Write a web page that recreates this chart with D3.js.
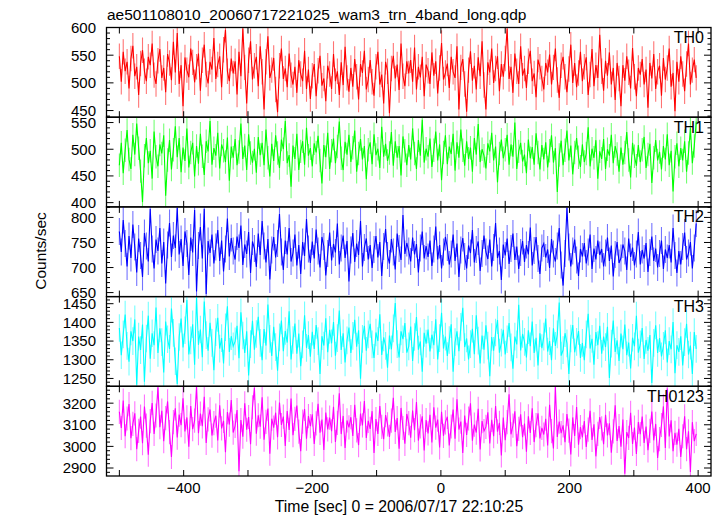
<!DOCTYPE html>
<html><head><meta charset="utf-8">
<script src="https://cdn.jsdelivr.net/npm/d3@7"></script>
<style>
body{margin:0;background:#fff}
svg{display:block}
text{font-family:"Liberation Sans",Arial,Helvetica,sans-serif;fill:#000}
</style>
</head><body>
<svg id="chart" width="724" height="516"></svg>
<script>
const titleText = "ae501108010_20060717221025_wam3_trn_4band_long.qdp";
const xAxisTitle = "Time [sec] 0 = 2006/07/17 22:10:25";
const yAxisTitle = "Counts/sec";
const bandNames = ["TH0", "TH1", "TH2", "TH3", "TH0123"];
const bandColors = ["#ff0000", "#00ff00", "#0000ff", "#00ffff", "#ff00ff"];
const yDomains = [[438, 600], [392, 560], [642, 821], [1229, 1469], [2863, 3278]];
const yMajorStep = [50, 50, 50, 50, 100];
const errSize = [23, 22, 27, 37, 56];
const xDomain = [-520, 420];
const xTickValues = [-500, -400, -300, -200, -100, 0, 100, 200, 300, 400];
const xTickLabels = [-400, -200, 0, 200, 400];
const timeStart = -500, timeStep = 3;

const th0 = [548,502,556,521,538,490,544,567,512,529, 478,535,559,521,503,547,532,571,514,498,
540,561,509,527,483,552,536,505,574,519, 590,498,532,458,546,523,510,562,537,501,
529,553,486,541,569,515,499,538,524,581, 507,533,548,492,560,596,521,503,544,517,
539,479,556,512,598,528,463,541,575,506, 531,547,494,566,520,452,538,584,509,523,
545,488,447,531,562,507,526,492,553,514, 497,529,482,541,516,503,558,489,524,471,
513,534,476,522,549,495,508,467,531,516, 489,552,503,521,478,537,496,565,509,484,
527,493,543,511,470,534,518,558,488,506, 541,502,477,529,556,497,515,463,538,521,
445,526,549,508,533,487,571,512,494,539, 517,541,502,564,488,529,510,547,476,533,
522,498,555,513,539,481,527,572,506,518, 535,491,547,520,509,566,452,528,543,498,
448,523,557,504,531,488,546,512,575,496, 452,537,519,562,500,526,548,485,534,511,
544,598,507,529,482,553,521,498,566,513, 526,491,539,558,503,517,474,542,529,508,
488,536,519,551,497,528,562,505,473,532, 547,511,483,525,569,500,536,492,518,556,
503,529,546,478,515,561,494,532,509,587, 521,486,540,513,555,497,527,469,536,508,
458,532,504,548,519,490,563,511,476,527, 515,543,497,524,455,536,508,552,489,520,
531,477,545,506,527,562,493,518,449,538, 502,548,516,485,534,571,497,523,542,509];

const th1 = [470,512,455,498,536,481,463,527,490,548, 502,459,401,488,521,474,497,445,533,486,
468,509,492,526,413,480,517,462,499,543, 485,521,457,503,478,539,466,494,512,449,
506,473,529,487,452,515,496,553,471,502, 488,531,464,509,497,476,522,441,505,484,
519,470,495,548,482,507,461,528,493,475, 501,456,523,489,512,470,537,484,449,510,
478,526,493,465,518,500,553,474,489,430, 507,482,529,461,496,515,471,540,488,502,
468,511,494,525,479,436,508,485,531,463, 497,520,474,505,552,483,461,514,490,527,
476,503,535,458,492,519,481,506,444,499, 513,472,528,489,501,465,542,486,510,478,
493,532,469,515,484,506,451,524,497,470, 508,481,539,492,463,517,488,555,475,501,
486,520,467,498,533,479,509,442,494,526, 472,505,491,529,460,513,484,537,498,469,
515,482,503,458,521,490,547,476,500,488, 464,511,496,531,479,505,438,492,518,483,
499,527,471,509,486,550,463,496,512,477, 490,455,518,483,504,471,530,494,462,508,
481,513,466,497,526,475,502,420,489,516, 470,498,535,479,507,453,494,521,485,467,
509,476,492,541,468,501,484,517,445,496, 482,519,463,500,488,527,474,506,491,458,
503,471,494,532,480,447,512,487,469,508, 476,499,523,465,490,510,437,484,517,479,
495,462,506,481,528,470,497,421,486,511, 468,502,479,515,458,493,540,474,506,552];

const th2 = [772,731,795,748,702,763,719,786,741,690, 758,724,681,769,743,712,817,737,698,756,
733,779,708,751,668,745,789,721,764,739, 819,726,757,703,772,748,685,760,730,815,
652,744,781,718,817,647,753,729,766,708, 741,775,713,754,692,737,798,722,759,733,
716,762,739,784,705,746,727,771,689,752, 738,701,768,725,793,743,710,757,676,735,
761,720,748,807,731,695,754,726,779,712, 729,766,704,745,687,751,723,797,737,709,
752,718,776,733,700,761,742,684,728,770, 714,747,730,788,706,739,764,719,753,672,
735,769,711,748,725,793,702,740,758,716, 745,699,736,763,720,751,683,742,777,724,
708,757,731,696,768,738,715,805,727,749, 733,712,760,726,747,690,739,772,718,743,
721,754,703,737,782,716,745,698,731,761, 740,706,727,766,713,748,681,735,759,722,
698,744,729,775,710,736,752,693,728,764, 731,717,756,702,740,789,719,733,675,746,
724,758,707,738,768,715,742,697,730,753, 711,745,726,780,704,734,761,718,687,739,
748,720,736,699,757,727,712,743,779,705, 664,728,819,741,702,733,756,715,683,737,
722,749,708,731,766,697,738,716,754,725, 737,702,729,760,713,744,682,726,751,709,
719,746,733,695,758,721,740,704,727,771, 706,735,718,749,691,730,762,713,738,700,
728,754,697,736,719,745,710,779,724,689, 733,706,742,770,716,729,751,698,739,788];

const th3 = [1385,1312,1368,1421,1337,1295,1376,1350,1408,1233, 1362,1326,1394,1241,1357,1418,1303,1371,1339,1440,
1318,1384,1347,1266,1402,1355,1329,1437,1372,1296, 1235,1361,1410,1333,1379,1460,1314,1352,1395,1287,
1468,1340,1381,1307,1456,1366,1324,1399,1345,1272, 1374,1412,1330,1358,1290,1387,1443,1321,1363,1336,
1349,1391,1304,1427,1365,1318,1376,1258,1342,1404, 1327,1369,1415,1345,1299,1382,1338,1448,1356,1310,
1388,1334,1271,1360,1405,1323,1377,1346,1430,1301, 1353,1397,1316,1370,1283,1341,1419,1332,1366,1308,
1375,1329,1393,1350,1262,1363,1338,1411,1320,1380, 1344,1401,1311,1358,1432,1326,1371,1293,1352,1386,
1318,1364,1407,1335,1379,1249,1356,1391,1324,1368, 1396,1341,1305,1373,1350,1422,1313,1360,1337,1279,
1365,1328,1384,1452,1342,1306,1376,1355,1398,1319, 1336,1389,1297,1361,1414,1327,1349,1268,1372,1343,
1381,1322,1367,1339,1408,1301,1358,1426,1330,1362, 1310,1353,1395,1268,1347,1376,1323,1388,1439,1334,
1357,1301,1342,1383,1315,1419,1351,1290,1365,1327, 1392,1338,1256,1361,1324,1373,1406,1319,1346,1380,
1314,1355,1398,1333,1276,1362,1341,1447,1325,1369, 1348,1306,1379,1336,1402,1318,1359,1285,1371,1331,
1362,1410,1322,1350,1299,1384,1337,1368,1453,1311, 1326,1371,1344,1262,1357,1393,1320,1348,1377,1305,
1345,1299,1368,1423,1330,1356,1287,1374,1339,1391, 1316,1362,1334,1388,1251,1343,1405,1321,1352,1297,
1370,1328,1394,1312,1346,1277,1359,1336,1418,1319, 1341,1385,1302,1353,1324,1366,1238,1345,1392,1318,
1358,1309,1337,1379,1293,1350,1328,1401,1264,1339, 1321,1363,1285,1347,1396,1314,1338,1262,1374,1329];

const th0123 = [3160,3085,3212,3047,3129,3196,3038,3104,3153,2987, 3072,3138,3015,3184,3096,2962,3117,3201,3058,3143,
3273,3089,3165,3024,3131,3208,3066,2951,3112,3176, 3041,3147,3098,3222,3069,3134,2998,3187,3080,3119,
3278,3061,3152,3093,3230,3016,3125,3171,3050,3108, 3142,3027,3190,3083,3118,2973,3159,3101,3214,3064,
3095,3168,2885,3122,3045,3199,3077,3136,3010,3181, 3271,3059,3144,3091,3227,3031,3113,3175,2966,3128,
3087,3156,3042,3203,3099,3138,3002,3164,3076,3221, 3052,3127,3189,3068,2978,3115,3173,3036,3140,3094,
3148,3011,3106,3197,3063,3124,2984,3157,3079,3133, 3070,3183,3021,3109,3246,3057,3141,2993,3120,3088,
3135,3048,3192,3074,3006,3152,3097,3210,3039,3118, 3081,3163,2970,3126,3058,3187,3090,3033,3145,3102,
3044,3119,3225,3067,3131,2989,3178,3085,3012,3150, 3108,3040,3166,3075,3205,3027,3093,3139,2981,3122,
3060,3146,3018,3181,3087,3124,2995,3160,3049,3111, 3137,3004,3092,3170,3035,3218,3078,3115,2969,3143,
3053,3129,3199,3026,3101,3064,3174,2986,3117,3071, 3090,3158,3013,3123,3047,3187,3068,3109,2958,3134,
3029,3112,3241,3056,3096,3162,3001,3081,3148,3043, 3106,2975,3139,3062,3176,3020,3098,3153,3037,3086,
3055,3128,3004,3193,3071,2990,3277,3044,3115,3061, 3097,3019,3150,3073,2963,3134,3048,3182,3008,3089,
3042,3117,2997,3078,3165,3030,3102,2954,3058,3136, 3083,3010,3146,3051,3107,2971,3069,3190,3025,3094,
2998,3124,2874,3066,3039,3155,3011,3087,2965,3113, 3057,3138,3016,3092,2982,3072,3161,3028,3104,2946,
3034,3099,3185,2993,3268,3046,3121,2978,3063,3008, 3081,2951,3047,3139,2987,3070,2882,3112,3024,3058];

const seriesList = [th0, th1, th2, th3, th0123];

// ---------- drawing ----------
const svg = d3.select("#chart");
const plotL = 106.5, plotR = 711, plotT = 27.5, plotB = 476;
const nP = seriesList.length;
const panelH = (plotB - plotT) / nP;

const x = d3.scaleLinear().domain(xDomain).range([plotL, plotR]);

svg.append("text").attr("x", 107).attr("y", 20).attr("font-size", 15.5).text(titleText);

const defs = svg.append("defs");

seriesList.forEach((vals, i) => {
  const top = plotT + i * panelH, bot = top + panelH;
  const y = d3.scaleLinear().domain(yDomains[i]).range([bot, top]);
  const times = vals.map((_, k) => timeStart + k * timeStep);
  const g = svg.append("g");

  defs.append("clipPath").attr("id", "clip" + i)
    .append("rect").attr("x", plotL).attr("y", top).attr("width", plotR - plotL).attr("height", panelH);

  const dg = g.append("g").attr("clip-path", `url(#clip${i})`);
  const e = errSize[i];
  const errPath = vals.map((v, k) => `M${x(times[k]).toFixed(2)},${y(v - e).toFixed(2)}V${y(v + e).toFixed(2)}`).join("");
  dg.append("path").attr("d", errPath).attr("stroke", bandColors[i]).attr("stroke-opacity", 0.55)
    .attr("stroke-width", 1.1).attr("fill", "none");
  const line = d3.line().x((d, k) => x(times[k])).y(d => y(d));
  dg.append("path").datum(vals).attr("d", line).attr("stroke", bandColors[i])
    .attr("stroke-width", 1.1).attr("fill", "none");

  g.append("rect").attr("x", plotL).attr("y", top).attr("width", plotR - plotL).attr("height", panelH)
    .attr("fill", "none").attr("stroke", "#000").attr("stroke-width", 1.3);

  const [lo, hi] = yDomains[i];
  const step = yMajorStep[i], minor = step / 5;
  const majors = d3.range(Math.ceil(lo / step) * step, hi + 0.001, step);
  const minors = d3.range(Math.ceil(lo / minor) * minor, hi + 0.001, minor)
    .filter(v => Math.abs(v / step - Math.round(v / step)) > 1e-6);
  const tk = g.append("g").attr("stroke", "#000").attr("stroke-width", 1);
  majors.forEach(v => {
    tk.append("line").attr("x1", plotL).attr("x2", plotL + 7).attr("y1", y(v)).attr("y2", y(v));
    tk.append("line").attr("x1", plotR).attr("x2", plotR - 7).attr("y1", y(v)).attr("y2", y(v));
  });
  minors.forEach(v => {
    tk.append("line").attr("x1", plotL).attr("x2", plotL + 3.5).attr("y1", y(v)).attr("y2", y(v));
    tk.append("line").attr("x1", plotR).attr("x2", plotR - 3.5).attr("y1", y(v)).attr("y2", y(v));
  });
  majors.forEach(v => {
    g.append("text").attr("x", 96).attr("y", y(v)).attr("dy", "0.36em").attr("text-anchor", "end")
      .attr("font-size", 15).text(v);
  });
  xTickValues.forEach(t => {
    tk.append("line").attr("x1", x(t)).attr("x2", x(t)).attr("y1", top).attr("y2", top + 6);
    tk.append("line").attr("x1", x(t)).attr("x2", x(t)).attr("y1", bot).attr("y2", bot - 6);
  });
  g.append("text").attr("x", 704).attr("y", top + 15.5).attr("text-anchor", "end")
    .attr("font-size", 16).text(bandNames[i]);
});

xTickLabels.forEach(t => {
  svg.append("text").attr("x", x(t)).attr("y", 493).attr("text-anchor", "middle")
    .attr("font-size", 15).text(t < 0 ? "\u2212" + Math.abs(t) : String(t));
});
svg.append("text").attr("x", 399).attr("y", 512).attr("text-anchor", "middle").attr("font-size", 15.8).text(xAxisTitle);
svg.append("text").attr("transform", "translate(46,251) rotate(-90)").attr("text-anchor", "middle")
  .attr("font-size", 15.5).text(yAxisTitle);
</script>
</body></html>
